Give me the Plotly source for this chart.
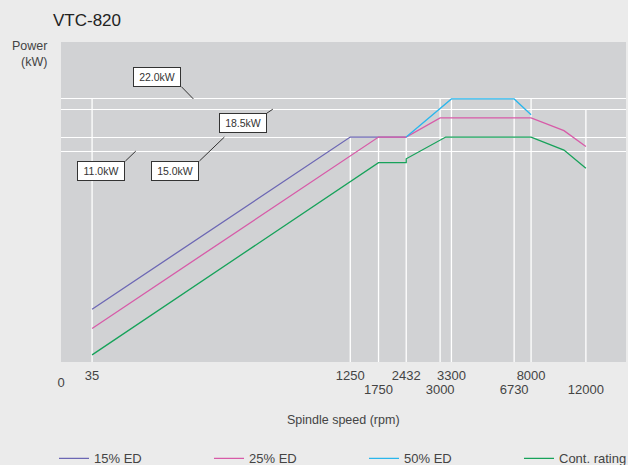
import numpy as np
import plotly.graph_objects as go

# ---------------- data ----------------
title_text = "VTC-820"
series_names = ["15% ED", "25% ED", "50% ED", "Cont. rating"]

rpm_15 = [35, 1250, 2432]
kw_15 = [2.75, 15.0, 15.0]

rpm_25 = [35, 1750, 2432, 3000, 8000, 10400, 12000]
kw_25 = [1.75, 15.0, 15.0, 17.4, 17.4, 15.8, 12.3]

rpm_50 = [2432, 3300, 6730, 8000]
kw_50 = [15.0, 22.0, 22.0, 17.8]

rpm_cont = [35, 1750, 2432, 2432, 3150, 8000, 10400, 12000]
kw_cont = [0.37, 10.4, 10.4, 10.6, 15.0, 15.0, 11.3, 10.1]

# tick labels (two staggered rows + origin)
ticks_row1 = [35, 1250, 2432, 3300, 8000]
ticks_row2 = [1750, 3000, 6730, 12000]
tick_origin = [0]

# power levels marked on the chart
power_levels = [11.0, 15.0, 18.5, 22.0]
power_labels = ["11.0kW", "15.0kW", "18.5kW", "22.0kW"]

# vertical guide lines: rpm and the power level they rise to
guide_rpm = [35, 1250, 1750, 2432, 3000, 3300, 6730, 8000, 12000]
guide_top_kw = [22.0, 15.0, 15.0, 15.0, 22.0, 22.0, 22.0, 22.0, 18.5]

# ------------- schematic (not-to-scale) axis scales -------------
x_break_rpm = [0, 35, 1250, 1750, 2432, 3000, 3300, 6730, 8000, 12000]
x_break_pos = [0, 5.5, 51.2, 56.2, 61.1, 67.1, 69.1, 80.2, 83.2, 92.9]
y_break_kw = [0, 11.0, 15.0, 18.5, 22.0]
y_break_pos = [0, 65.9, 70.3, 79.0, 82.2]


def xs(v):
    return np.interp(v, x_break_rpm, x_break_pos)


def ys(v):
    return np.interp(v, y_break_kw, y_break_pos)


colors = ["#6c67b4", "#d75ba8", "#2ab6ec", "#17a25a"]
FONT = "Liberation Sans, Arial, sans-serif"
TXT = "#444444"

fig = go.Figure()

series = [(rpm_15, kw_15), (rpm_25, kw_25), (rpm_50, kw_50), (rpm_cont, kw_cont)]
for (r, k), name, c in zip(series, series_names, colors):
    fig.add_trace(go.Scatter(
        x=xs(r), y=ys(k), mode="lines", name=name,
        line=dict(color=c, width=1.3), hoverinfo="skip"))

# helper traces so the overlaid tick-label axes are rendered
fig.add_trace(go.Scatter(x=[None], y=[None], xaxis="x2", showlegend=False, hoverinfo="skip"))
fig.add_trace(go.Scatter(x=[None], y=[None], xaxis="x3", showlegend=False, hoverinfo="skip"))

# vertical guide lines
for r, top in zip(guide_rpm, guide_top_kw):
    fig.add_shape(type="line", xref="x", yref="y",
                  x0=float(xs(r)), x1=float(xs(r)), y0=-0.8, y1=float(ys(top)),
                  line=dict(color="white", width=1.3), layer="below")

tick_font = dict(family=FONT, size=13, color=TXT)
common_x = dict(range=[0, 100], showgrid=False, zeroline=False, showline=False,
                ticks="", fixedrange=True, tickfont=tick_font)

PLOT_W = 564.7
PLOT_H = 319.4

fig.update_layout(
    width=628, height=465,
    margin=dict(l=61, r=2, t=42, b=103, autoexpand=False),
    paper_bgcolor="#ebebeb",
    plot_bgcolor="#d1d2d4",
    font=dict(family=FONT, color=TXT),
    xaxis=dict(**common_x, tickmode="array", tickvals=xs(ticks_row1),
               ticktext=[str(t) for t in ticks_row1], ticklabelstandoff=4),
    xaxis2=dict(**common_x, overlaying="x", side="bottom", anchor="y",
                tickmode="array", tickvals=xs(ticks_row2),
                ticktext=[str(t) for t in ticks_row2], ticklabelstandoff=18),
    xaxis3=dict(**common_x, overlaying="x", side="bottom", anchor="y",
                tickmode="array", tickvals=xs(tick_origin),
                ticktext=[str(t) for t in tick_origin], ticklabelstandoff=11),
    yaxis=dict(range=[0, 100], showgrid=True, gridcolor="white", gridwidth=1.2,
               tickmode="array", tickvals=ys(power_levels), showticklabels=False,
               zeroline=False, showline=False, ticks="", fixedrange=True),
    showlegend=True,
    legend=dict(orientation="h", xref="paper", yref="paper",
                x=(54 - 61) / PLOT_W, y=(361.7 - 443) / PLOT_H,
                xanchor="left", yanchor="top",
                entrywidth=110, entrywidthmode="pixels",
                font=dict(family=FONT, size=13, color=TXT),
                bgcolor="rgba(0,0,0,0)"),
)

# title
fig.add_annotation(text=title_text, xref="paper", yref="paper",
                   x=(50.7 - 61) / PLOT_W, y=(361.7 - 21) / PLOT_H,
                   xanchor="left", yanchor="middle", showarrow=False,
                   font=dict(family=FONT, size=17, color="#222222"))
# y-axis caption
fig.add_annotation(text="Power<br>(kW)", xref="paper", yref="paper",
                   x=(49 - 61) / PLOT_W, y=(361.7 - 54) / PLOT_H,
                   xanchor="right", yanchor="middle", align="right", showarrow=False,
                   font=dict(family=FONT, size=12.5, color=TXT))
# x-axis caption
fig.add_annotation(text="Spindle speed (rpm)", xref="paper", yref="paper",
                   x=(343 - 61) / PLOT_W, y=(361.7 - 420) / PLOT_H,
                   xanchor="center", yanchor="middle", showarrow=False,
                   font=dict(family=FONT, size=12.5, color=TXT))

# power-level callouts: (level index, leader-target position, box offset, anchors)
callouts = [
    (3, 23.43, -12, -12.3, "right", "bottom"),
    (2, 37.49, -6, 4, "right", "top"),
    (1, 28.92, -25, 24, "right", "top"),
    (0, 13.23, -10.4, 10, "right", "top"),
]
for idx, xpos, ax, ay, xa, ya in callouts:
    fig.add_annotation(
        text=power_labels[idx], x=xpos, y=float(ys(power_levels[idx])),
        xref="x", yref="y", showarrow=True, arrowhead=0, arrowwidth=1,
        arrowcolor="#333333", ax=ax, ay=ay, xanchor=xa, yanchor=ya,
        bgcolor="white", bordercolor="#333333", borderwidth=1, borderpad=1,
        width=44, height=16, font=dict(family=FONT, size=10.5, color="#333333"))

fig.write_html("out.html", config={"displayModeBar": False},
               post_script="document.body.style.margin='0';")
